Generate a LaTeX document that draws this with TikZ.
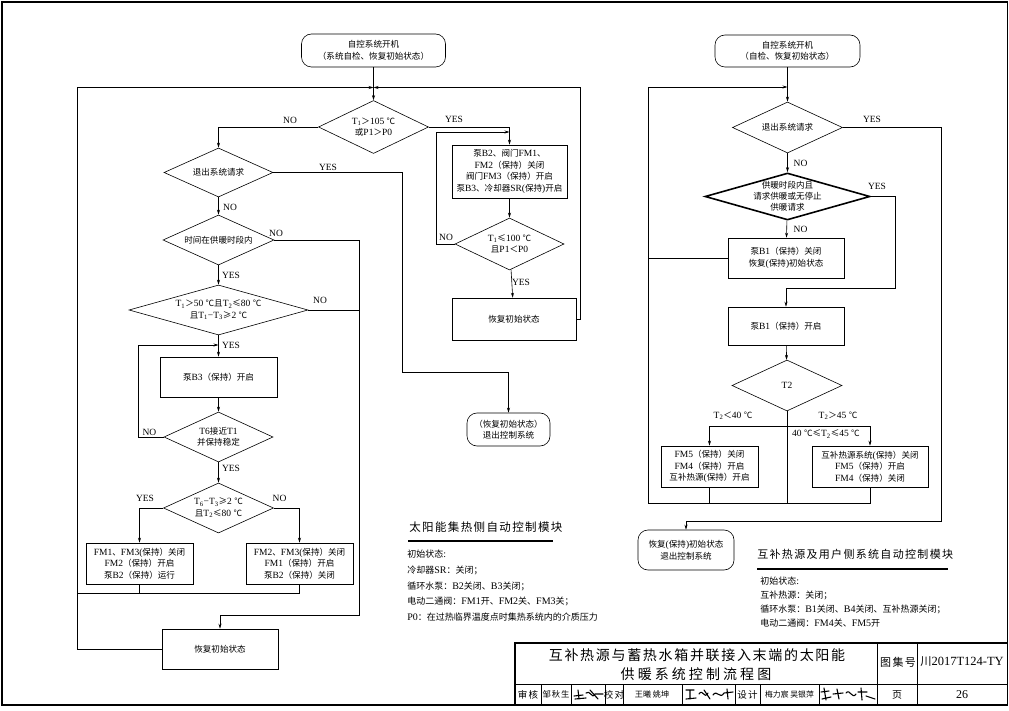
\documentclass[tikz,border=0pt]{standalone}
\usepackage{fontspec}
\setmainfont{Liberation Serif}
\newfontfamily\cjkf[Scale=0.9]{Noto Sans CJK SC}
\newfontfamily\cjkw[LetterSpace=12]{Noto Sans CJK SC}
\newfontfamily\cjkww[LetterSpace=22]{Noto Sans CJK SC}
\usetikzlibrary{shapes.geometric,arrows.meta}
\XeTeXinterchartokenstate=1
\newXeTeXintercharclass\CJKcls
\newcount\cjkcnt
\def\setcjkrange#1#2{\cjkcnt=#1\relax
  \loop\XeTeXcharclass\cjkcnt=\CJKcls\relax
  \ifnum\cjkcnt<#2\relax\advance\cjkcnt by 1\relax\repeat}
\setcjkrange{"3000}{"303F}
\setcjkrange{"4E00}{"9FFF}
\setcjkrange{"FF00}{"FFEF}
\XeTeXcharclass"2103=\CJKcls
\XeTeXcharclass"2264=\CJKcls
\XeTeXcharclass"2265=\CJKcls
\XeTeXinterchartoks 0 \CJKcls={\cjkf}
\XeTeXinterchartoks 4095 \CJKcls={\cjkf}
\XeTeXinterchartoks \CJKcls 0={\rmfamily}
\newcommand\wfont[1]{\XeTeXinterchartokenstate=0\relax\cjkw\fontsize{#1}{#1}\selectfont}
\newcommand\wwfont[1]{\XeTeXinterchartokenstate=0\relax\cjkww\fontsize{#1}{#1}\selectfont}
\newcommand\nfont[1]{\XeTeXinterchartokenstate=0\relax\cjkf\fontsize{#1}{#1}\selectfont}
\tikzset{
  base/.style={font=\fontsize{9.5}{11.5}\selectfont, inner sep=0pt, align=center},
  box/.style={base, draw, line width=0.6pt, rectangle},
  term/.style={box, rounded corners=10pt},
  dia/.style={draw, line width=0.6pt, diamond, inner sep=0pt},
  arr/.style={-{Stealth[length=5pt,width=3pt]}},
  modt/.style={font=\fontsize{10}{12}\selectfont, inner sep=0pt, anchor=west},
  wide/.style={inner sep=0pt, font=\wfont{#1}},
  sig/.style={line width=1.1pt, line cap=round, line join=round},
}
\begin{document}
\begin{tikzpicture}[x=1pt,y=-1pt,line width=0.6pt]
\useasboundingbox (0,0) rectangle (1009,711);
\draw[line width=1.6pt] (2,2) rectangle (1007.5,705);

% ---------------- left chart ----------------
\node[term, minimum width=144pt, minimum height=33pt] (s1) at (373.5,50.5) {自控系统开机\\（系统自检、恢复初始状态）};
\coordinate (j1) at (373.5,87.5);
\node[dia, minimum width=110pt, minimum height=53pt] (d1) at (373.5,127) {};
\node[base] (d1t) at (d1) {T\textsubscript{1}＞105 ℃\\或P1＞P0};
\node[dia, minimum width=109pt, minimum height=49pt] (d2) at (218.5,172.5) {};
\node[base] (d2t) at (d2) {退出系统请求};
\node[dia, minimum width=111pt, minimum height=50pt] (d3) at (218.5,240) {};
\node[base] (d3t) at (d3) {时间在供暖时段内};
\node[dia, minimum width=179pt, minimum height=50pt] (d4) at (218.5,310) {};
\node[base] (d4t) at (d4) {T\textsubscript{1}＞50 ℃且T\textsubscript{2}≤80 ℃\\且T\textsubscript{1}−T\textsubscript{3}≥2 ℃};
\coordinate (j3) at (218.5,345);
\node[box, minimum width=117pt, minimum height=40pt] (b3) at (218.5,377) {泵B3（保持）开启};
\node[dia, minimum width=109pt, minimum height=50pt] (d5) at (218.5,437) {};
\node[base] (d5t) at (d5) {T6接近T1\\并保持稳定};
\node[dia, minimum width=110pt, minimum height=50pt] (d6) at (218.5,508) {};
\node[base] (d6t) at (d6) {T\textsubscript{6}−T\textsubscript{3}≥2 ℃\\且T\textsubscript{2}≤80 ℃};
\node[box, minimum width=107pt, minimum height=41pt] (bL) at (139.5,563.5) {FM1、FM3(保持）关闭\\FM2（保持）开启\\泵B2（保持）运行};
\node[box, minimum width=107pt, minimum height=41pt] (bR) at (299.5,563.5) {FM2、FM3(保持）关闭\\FM1（保持）开启\\泵B2（保持）关闭};
\node[box, minimum width=116pt, minimum height=40pt] (rst) at (220,649) {恢复初始状态};
\node[box, minimum width=115pt, minimum height=53pt] (bA) at (509.5,171.5) {泵B2、阀门FM1、\\FM2（保持）关闭\\阀门FM3（保持）开启\\泵B3、冷却器SR(保持)开启};
\coordinate (j2) at (509.5,132);
\node[dia, minimum width=109pt, minimum height=52pt] (d7) at (509.5,244) {};
\node[base] (d7t) at (d7) {T\textsubscript{1}≤100 ℃\\且P1＜P0};
\node[box, minimum width=124pt, minimum height=42pt] (bB) at (514,319) {恢复初始状态};
\node[term, minimum width=83pt, minimum height=33pt] (ex1) at (508.5,429.5) {（恢复初始状态）\\退出控制系统};

\coordinate (lx) at (77,87.5);
\coordinate (rx) at (580,87.5);
\coordinate (c1) at (402,372);
\coordinate (c2) at (359,615);
\coordinate (m1) at (77,593);

\draw[arr] (s1) -- (d1.north);
\draw[arr] (rst.west) -| (lx) -- (j1);
\draw[arr] (bB.east) -| (rx) -- (j1);
\draw[arr] (d1.west) -| (d2.north);
\draw[arr] (d1.east) -| (bA.north);
\draw[arr] (bA) -- (d7);
\draw[arr] (d7.west) -- ++(-18,0) |- (j2);
\draw[arr] (d7) -- (bB);
\draw[arr] (d2.east) -| (c1) -| (ex1.north);
\draw[arr] (d2) -- (d3);
\draw[arr] (d3.east) -| (c2) -| (rst.north);
\draw (d4.east) -- (d4.east -| c2);
\draw[arr] (d3) -- (d4);
\draw[arr] (d4) -- (b3);
\draw[arr] (b3) -- (d5);
\draw[arr] (d5.west) -- ++(-25,0) |- (j3);
\draw[arr] (d5) -- (d6);
\draw[arr] (d6.west) -| (bL.north);
\draw[arr] (d6.east) -| (bR.north);
\draw (bR.south) |- (m1);
\draw (bL.south) -- (bL.south |- m1);

\node[base] (l1) at (290,120) {NO};
\node[base] (l2) at (454,119) {YES};
\node[base] (l3) at (328,167) {YES};
\node[base] (l4) at (230,207) {NO};
\node[base] (l5) at (276,233) {NO};
\node[base] (l6) at (231,275) {YES};
\node[base] (l7) at (320,300) {NO};
\node[base] (l8) at (231,345) {YES};
\node[base] (l9) at (149.5,432) {NO};
\node[base] (l10) at (231,468) {YES};
\node[base] (l11) at (145,498) {YES};
\node[base] (l12) at (279.5,498) {NO};
\node[base] (l13) at (446,237) {NO};
\node[base] (l14) at (521,282) {YES};

% module 1 text
\node[wide=11.5, anchor=west] (mt1) at (409,527) {太阳能集热侧自动控制模块};
\draw[line width=1.8pt] (408,541) -- (553,541);
\node[modt] (ma1) at (407,554) {初始状态:};
\node[modt] (ma2) at (407,570) {冷却器SR：关闭；};
\node[modt] (ma3) at (407,586) {循环水泵：B2关闭、B3关闭；};
\node[modt] (ma4) at (407,601) {电动二通阀：FM1开、FM2关、FM3关；};
\node[modt] (ma5) at (407,617) {P0：在过热临界温度点时集热系统内的介质压力};

% ---------------- right chart ----------------
\node[term, minimum width=145pt, minimum height=32pt] (s2) at (787.5,51) {自控系统开机\\（自检、恢复初始状态）};
\coordinate (j4) at (787.5,87);
\node[dia, minimum width=110pt, minimum height=51pt] (r1) at (787.5,127.5) {};
\node[base] (r1t) at (r1) {退出系统请求};
\node[dia, line width=1.6pt, minimum width=165pt, minimum height=47pt] (r2) at (787.5,196.5) {};
\node[base, font=\fontsize{9.5}{11}\selectfont] (r2t) at (r2) {供暖时段内且\\请求供暖或无停止\\供暖请求};
\node[box, minimum width=116pt, minimum height=40pt] (rb1) at (786,258) {泵B1（保持）关闭\\恢复(保持)初始状态};
\node[box, minimum width=116pt, minimum height=38pt] (rb2) at (786,326) {泵B1（保持）开启};
\node[dia, minimum width=110pt, minimum height=51pt] (rt2) at (787,385.5) {};
\node[base] (rt2t) at (rt2) {T2};
\coordinate (j5) at (787,426);
\node[box, minimum width=97pt, minimum height=41pt] (rf1) at (709.5,466.5) {FM5（保持）关闭\\FM4（保持）开启\\互补热源(保持）开启};
\node[box, minimum width=116pt, minimum height=41pt] (rf2) at (870,466.5) {互补热源系统(保持）关闭\\FM5（保持）开启\\FM4（保持）关闭};
\node[term, minimum width=96pt, minimum height=40pt] (ex2) at (686,550) {恢复(保持)初始状态\\退出控制系统};

\coordinate (m2) at (648,503);
\coordinate (c3) at (941,521);
\coordinate (c4) at (895,288);

\draw[arr] (s2) -- (r1.north);
\draw[arr] (m2) |- (j4);
\draw (rb1.west) -- (rb1.west -| m2);
\draw (rf2.south) |- (m2);
\draw (rf1.south) -- (rf1.south |- m2);
\draw (rt2.south) -- (rt2.south |- m2);
\draw[arr] (r1.east) -| (c3) -| (ex2.north);
\draw[arr] (r1) -- (r2);
\draw[arr] (r2.east) -| (c4) -| (rb2.north);
\draw[arr] (r2) -- (rb1);
\draw[arr] (rb2) -- (rt2);
\draw[arr] (j5) -| (rf1.north);
\draw[arr] (j5) -| (rf2.north);

\node[base] (q1) at (872,119) {YES};
\node[base] (q2) at (800.5,163) {NO};
\node[base] (q3) at (877,186) {YES};
\node[base] (q4) at (800.5,229) {NO};
\node[base] (q5) at (733,416) {T\textsubscript{2}＜40 ℃};
\node[base] (q6) at (838,416) {T\textsubscript{2}＞45 ℃};
\node[base] (q7) at (826,434) {40 ℃≤T\textsubscript{2}≤45 ℃};

% module 2 text
\node[wide=11, anchor=west] (mt2) at (757,554) {互补热源及用户侧系统自动控制模块};
\draw[line width=1.8pt] (757,569) -- (948,569);
\node[modt] (mb1) at (760,581) {初始状态:};
\node[modt] (mb2) at (760,595) {互补热源：关闭；};
\node[modt] (mb3) at (760,609) {循环水泵：B1关闭、B4关闭、互补热源关闭；};
\node[modt] (mb4) at (760,623) {电动二通阀：FM4关、FM5开};

% ---------------- title block ----------------
\draw[line width=1.2pt] (515,643) rectangle (1007.5,705);
\draw (515,684) -- (1007.5,684);
\draw (877,643) -- (877,705);
\draw (917,643) -- (917,705);
\foreach \xx in {541,571,605,623,682,735,760,819} \draw (\xx,684) -- (\xx,705);
\node[wide=14] (tt1) at (697,655) {互补热源与蓄热水箱并联接入末端的太阳能};
\node[inner sep=0pt, font=\wwfont{14}] (tt2) at (696,674) {供暖系统控制流程图};
\node[wide=11] (tn1) at (898,662) {图集号};
\node[inner sep=0pt, font=\fontsize{12.5}{13}\selectfont] (tn2) at (962,662) {川2017T124-TY};
\node[wide=9.5] (tc1) at (528,694.5) {审核};
\node[wide=8.3] (tc2) at (556,694.5) {邹秋生};
\node[wide=9.5] (tc3) at (614,694.5) {校对};
\node[inner sep=0pt, font=\nfont{9}] (tc4) at (652,694.5) {王曦 姚坤};
\node[wide=9.5] (tc5) at (747.5,694.5) {设计};
\node[inner sep=0pt, font=\nfont{8.7}] (tc6) at (789.5,694.5) {梅力宸 吴银萍};
\node[wide=10] (tc7) at (897,694.5) {页};
\node[inner sep=0pt, font=\fontsize{12}{12}\selectfont] (tc8) at (962,694.5) {26};

% signatures (handwriting strokes)
\draw[sig] (574,696) -- (583,695) (578,690) -- (579,699) (575,699) -- (586,698)
  (586,693) .. controls (590,689) and (592,700) .. (595,694) -- (603,694) (590,690) -- (598,699);
\draw[sig] (686,690) -- (694,690) (690,690) -- (690,699) (686,699) -- (696,698)
  (699,694) .. controls (703,688) and (704,700) .. (708,693) (704,690) -- (710,699)
  (713,695) .. controls (717,689) and (720,700) .. (724,693) -- (733,692) (727,689) -- (728,699);
\draw[sig] (821,692) -- (829,691) (824,688) -- (826,700) (822,699) -- (831,697)
  (833,694) -- (843,693) (837,689) -- (839,699) (846,693) .. controls (850,688) and (852,700) .. (856,694)
  (858,692) -- (867,692) (861,688) -- (862,700) (866,696) -- (875,699);
\end{tikzpicture}
\end{document}
